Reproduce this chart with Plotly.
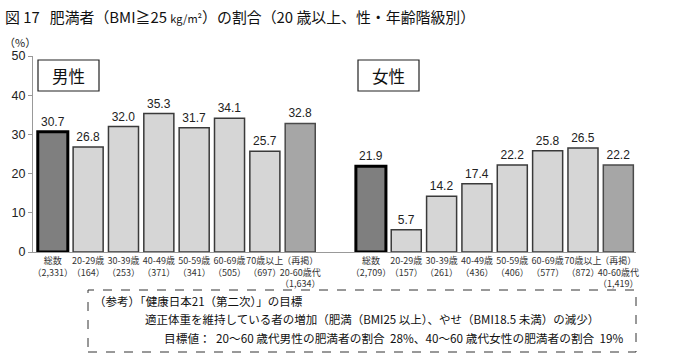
import plotly.graph_objects as go

male_categories = ["総数<br>（2,331）", "20-29歳<br>（164）", "30-39歳<br>（253）", "40-49歳<br>（371）",
                   "50-59歳<br>（341）", "60-69歳<br>（505）", "70歳以上<br>（697）", "（再掲）<br>20-60歳代<br>（1,634）"]
male_values = [30.7, 26.8, 32.0, 35.3, 31.7, 34.1, 25.7, 32.8]
female_categories = ["総数<br>（2,709）", "20-29歳<br>（157）", "30-39歳<br>（261）", "40-49歳<br>（436）",
                     "50-59歳<br>（406）", "60-69歳<br>（577）", "70歳以上<br>（872）", "（再掲）<br>40-60歳代<br>（1,419）"]
female_values = [21.9, 5.7, 14.2, 17.4, 22.2, 25.8, 26.5, 22.2]
y_ticks = [0, 10, 20, 30, 40, 50]

male_x = list(range(8))
female_x = list(range(9, 17))

fill = ["#7f7f7f"] + ["#d6d6d6"] * 6 + ["#a6a6a6"]
lcol = ["#000000"] + ["#3a3a3a"] * 6 + ["#4a4a4a"]
lw = [3] + [1.5] * 7

W, H = 684, 362
L, R, T, B = 33, 48, 56, 110
PW, PH = W - L - R, H - T - B

def px(x):
    return (x - L) / PW

def py(y):
    return (H - B - y) / PH

FONT = "Liberation Sans, Noto Sans CJK JP, sans-serif"
JP = "Noto Sans CJK JP, sans-serif"

fig = go.Figure()
for xs, vals in [(male_x, male_values), (female_x, female_values)]:
    fig.add_trace(go.Bar(
        x=xs, y=vals, width=0.85,
        marker=dict(color=fill, line=dict(color=lcol, width=lw)),
        texttemplate="%{y:.1f}", textposition="outside",
        textfont=dict(size=12, color="#222", family=FONT),
        cliponaxis=False, showlegend=False, hoverinfo="skip",
    ))

fig.update_layout(
    width=W, height=H, margin=dict(l=L, r=R, t=T, b=B),
    paper_bgcolor="white", plot_bgcolor="white",
    barmode="overlay",
    font=dict(family=JP, color="#222"),
    xaxis=dict(range=[-0.56, 16.5], tickvals=male_x + female_x,
               ticktext=male_categories + female_categories,
               tickfont=dict(size=9, color="#333", family=JP),
               showline=True, linecolor="#999", linewidth=1, ticks="",
               showgrid=False, zeroline=False, tickangle=0),
    yaxis=dict(range=[0, 50], tickvals=y_ticks, showline=True, linecolor="#999",
               linewidth=1, ticks="outside", ticklen=4, tickcolor="#999",
               tickfont=dict(size=12.5, color="#222", family=FONT),
               showgrid=False, zeroline=False),
)

shapes = [
    dict(type="rect", xref="paper", yref="paper", x0=px(38), x1=px(99), y0=py(91), y1=py(60),
         line=dict(color="#222", width=1.2), fillcolor="white", layer="below"),
    dict(type="rect", xref="paper", yref="paper", x0=px(358), x1=px(419), y0=py(91), y1=py(60),
         line=dict(color="#222", width=1.2), fillcolor="white", layer="below"),
    dict(type="rect", xref="paper", yref="paper", x0=px(88), x1=px(636), y0=py(352), y1=py(290),
         line=dict(color="#333", width=1, dash="dash")),
]
fig.update_layout(shapes=shapes)

ann = [
    dict(text="男性", x=px(68.5), y=py(76), font=dict(size=16.5, color="#111")),
    dict(text="女性", x=px(388.5), y=py(76), font=dict(size=16.5, color="#111")),
    dict(text="（%）", x=px(20), y=py(42), font=dict(size=11, color="#222")),
    dict(text="図 17   肥満者（BMI≧25 <span style='font-size:11px'>kg/m²</span>）の割合（20 歳以上、性・年齢階級別）",
         x=px(3), y=py(16), xanchor="left", font=dict(size=14.9, color="#111")),
    dict(text="（参考）「健康日本21（第二次）」の目標", x=px(92), y=py(301), xanchor="left",
         font=dict(size=11.5, color="#111")),
    dict(text="適正体重を維持している者の増加（肥満（BMI25 以上）、やせ（BMI18.5 未満）の減少）", x=px(143), y=py(319),
         xanchor="left", font=dict(size=11.5, color="#111")),
    dict(text="目標値：  20～60 歳代男性の肥満者の割合  28%、40～60 歳代女性の肥満者の割合  19%", x=px(162), y=py(337),
         xanchor="left", font=dict(size=11.7, color="#111")),
]
for a in ann:
    a.setdefault("xanchor", "center")
    fig.add_annotation(xref="paper", yref="paper", yanchor="middle", showarrow=False, **a)

fig.write_html("out.html", post_script="document.body.style.margin='0';",
               config={"displayModeBar": False})
